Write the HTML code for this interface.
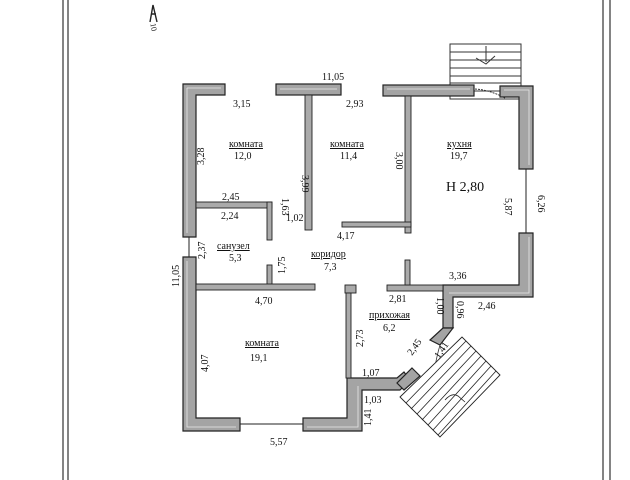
<!DOCTYPE html>
<html><head><meta charset="utf-8"><style>
html,body{margin:0;padding:0;background:#fff;width:630px;height:480px;overflow:hidden}
svg text{font-family:"Liberation Serif",serif;fill:#111}
</style></head><body>
<svg width="630" height="480" viewBox="0 0 630 480" xmlns="http://www.w3.org/2000/svg">
<!-- frame -->
<g stroke="#333" stroke-width="1.2" fill="none">
<line x1="63" y1="0" x2="63" y2="480"/><line x1="68" y1="0" x2="68" y2="480"/>
<line x1="603" y1="0" x2="603" y2="480"/><line x1="610" y1="0" x2="610" y2="480"/>
</g>
<!-- north arrow -->
<g stroke="#222" fill="none" stroke-width="1.4"><path d="M150 22 L153 5 L157 22 M151 14 L156 14"/></g>
<text x="150" y="30" font-size="8" transform="rotate(80 154 27)">10</text>
<!-- top stair -->
<g stroke="#333" stroke-width="1" fill="none">
<rect x="450" y="44" width="71" height="55"/>
<line x1="450" y1="52" x2="521" y2="52"/><line x1="450" y1="60" x2="521" y2="60"/>
<line x1="450" y1="68" x2="521" y2="68"/><line x1="450" y1="76" x2="521" y2="76"/>
<line x1="450" y1="83" x2="521" y2="83"/><line x1="450" y1="91" x2="521" y2="91"/>
<path d="M486 46 L486 62 M476 58 L486 64 L495 56"/>
<path d="M475 89 Q490 90 505 98" stroke-dasharray="2 1"/>
</g>
<!-- walls -->
<g fill="#a4a4a4" stroke="#222" stroke-width="1.2">
<path d="M183 84 H225 V95 H196 V237 H183 Z"/>
<path d="M183 257 H196 V418 H240 V431 H183 Z"/>
<path d="M303 418 H347 V378 H397 L404 372 L410 380 L400 390 H362 V431 H303 Z"/>
<rect x="276" y="84" width="65" height="11"/>
<rect x="383" y="85" width="91" height="11"/>
<path d="M500 86 H533 V169 H519 V97 H500 Z"/>
<path d="M519 233 H533 V297 H453 V328 H443 V285 H519 Z"/>
<path d="M443 328 L453 328 L440 345 L430 340 Z"/>
<path d="M412 368 L420 376 L404 390 L397 383 Z"/>
</g>
<g fill="none" stroke="#e8e8e8" stroke-width="0.8">
<path d="M187 88 H221 M187 88 V233"/>
<path d="M187 261 V427 H236"/>
<path d="M307 427 H358 V386"/>
<path d="M280 89 H337"/><path d="M387 89 H470"/>
<path d="M504 90 H529 V165"/>
<path d="M529 237 V293 H449"/>
</g>
<g fill="#aaa" stroke="#222" stroke-width="0.9">
<rect x="305" y="95" width="7" height="135"/>
<rect x="405" y="96" width="6" height="137"/>
<rect x="342" y="222" width="69" height="5"/>
<rect x="196" y="202" width="76" height="6"/>
<rect x="267" y="202" width="5" height="38"/>
<rect x="267" y="265" width="5" height="20"/>
<rect x="196" y="284" width="119" height="6"/>
<rect x="345" y="285" width="11" height="8"/>
<rect x="346" y="293" width="5" height="85"/>
<rect x="387" y="285" width="56" height="6"/>
<rect x="405" y="260" width="5" height="25"/>
</g>
<g stroke="#222" stroke-width="1"><line x1="189" y1="237" x2="189" y2="257"/><line x1="526" y1="169" x2="526" y2="233"/><line x1="240" y1="424" x2="303" y2="424"/></g>
<path d="M440 345 Q430 380 437 390" fill="none" stroke="#333" stroke-width="0.8"/>
<line x1="412" y1="388" x2="440" y2="388" stroke="#555" stroke-width="2"/>
<!-- bottom stair -->
<polygon points="400,397 462,337 500,375 440,437" stroke="#222" stroke-width="0.9" fill="#fff"/>
<g stroke="#222" stroke-width="0.8">
<line x1="406" y1="403" x2="466" y2="341"/><line x1="411" y1="409" x2="471" y2="346"/>
<line x1="417" y1="414" x2="476" y2="351"/><line x1="422" y1="420" x2="481" y2="356"/>
<line x1="428" y1="425" x2="486" y2="361"/><line x1="433" y1="430" x2="491" y2="366"/>
<line x1="438" y1="435" x2="496" y2="371"/>
<path d="M445 400 Q452 392 458 396 L465 402" fill="none"/>
</g>
<!-- labels -->
<g font-size="10">
<text x="322" y="80">11,05</text>
<text x="233" y="107">3,15</text>
<text x="346" y="107">2,93</text>
<text x="229" y="147" text-decoration="underline">комната</text>
<text x="234" y="159">12,0</text>
<text x="330" y="147" text-decoration="underline">комната</text>
<text x="340" y="159">11,4</text>
<text x="447" y="147" text-decoration="underline">кухня</text>
<text x="450" y="159">19,7</text>
<text x="446" y="191" font-size="14">Н  2,80</text>
<text x="222" y="200">2,45</text>
<text x="221" y="219">2,24</text>
<text x="286" y="221">1,02</text>
<text x="337" y="239">4,17</text>
<text x="217" y="249" text-decoration="underline">санузел</text>
<text x="229" y="261">5,3</text>
<text x="311" y="257" text-decoration="underline">коридор</text>
<text x="324" y="270">7,3</text>
<text x="449" y="279">3,36</text>
<text x="255" y="304">4,70</text>
<text x="389" y="302">2,81</text>
<text x="478" y="309">2,46</text>
<text x="369" y="318" text-decoration="underline">прихожая</text>
<text x="383" y="331">6,2</text>
<text x="245" y="346" text-decoration="underline">комната</text>
<text x="250" y="361">19,1</text>
<text x="362" y="376">1,07</text>
<text x="364" y="403">1,03</text>
<text x="270" y="445">5,57</text>
<text transform="translate(204,165) rotate(-90)">3,28</text>
<text transform="translate(302,175) rotate(90)">3,99</text>
<text transform="translate(396,152) rotate(90)">3,00</text>
<text transform="translate(505,198) rotate(90)">5,87</text>
<text transform="translate(538,195) rotate(90)">6,26</text>
<text transform="translate(282,198) rotate(90)">1,63</text>
<text transform="translate(205,259) rotate(-90)">2,37</text>
<text transform="translate(285,274) rotate(-90)">1,75</text>
<text transform="translate(179,287) rotate(-90)">11,05</text>
<text transform="translate(208,372) rotate(-90)">4,07</text>
<text transform="translate(363,347) rotate(-90)">2,73</text>
<text transform="translate(437,297) rotate(90)">1,00</text>
<text transform="translate(457,301) rotate(90)">0,96</text>
<text transform="translate(371,426) rotate(-90)">1,41</text>
<text transform="translate(412,356) rotate(-55)">2,45</text>
<text transform="translate(439,359) rotate(-55)">1,41</text>
</g>
</svg>
</body></html>
